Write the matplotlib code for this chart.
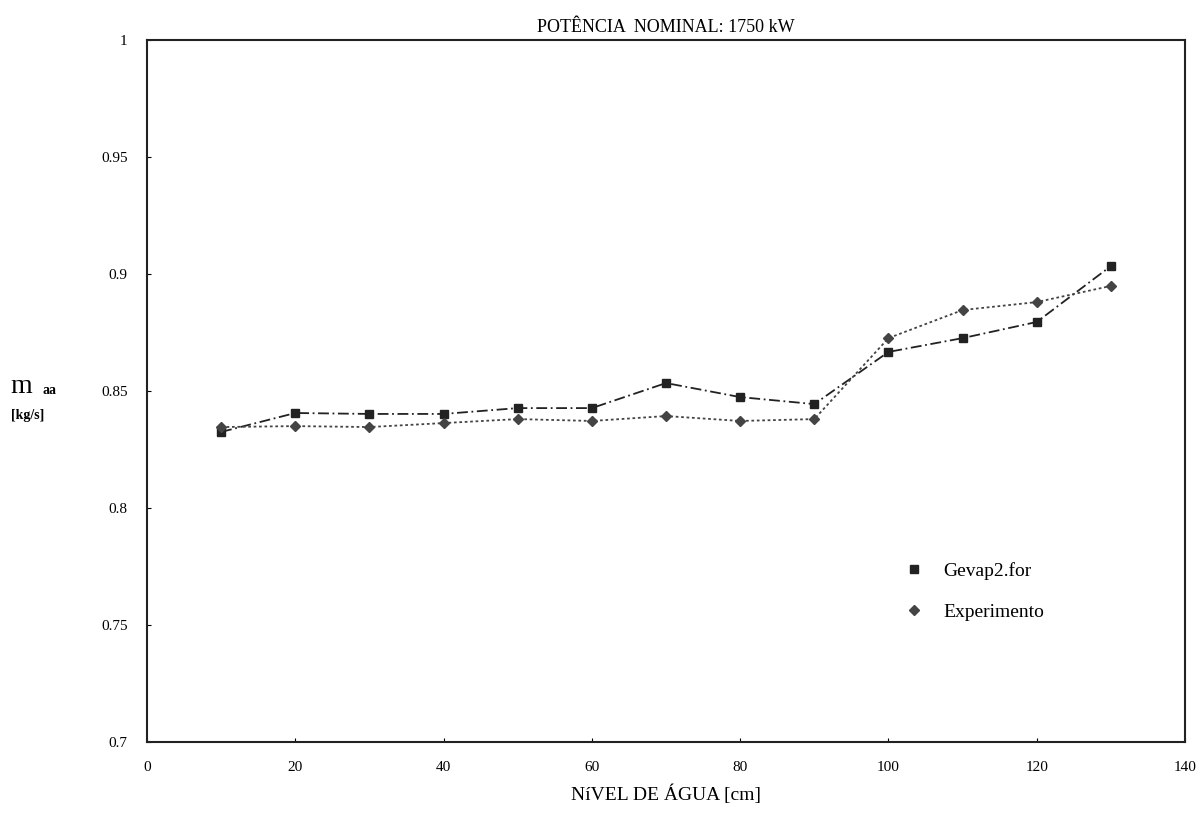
import matplotlib.pyplot as plt
from matplotlib.lines import Line2D
import numpy as np

plt.rcParams['font.family'] = ['Liberation Serif', 'DejaVu Serif']

nivel = [10, 20, 30, 40, 50, 60, 70, 80, 90, 100, 110, 120, 130]
gevap = [0.8325, 0.8406, 0.8402, 0.8402, 0.8427, 0.8427, 0.8534, 0.8474,
         0.8444, 0.8667, 0.8726, 0.8795, 0.9034]
experimento = [0.8346, 0.8350, 0.8346, 0.8363, 0.8380, 0.8372, 0.8393, 0.8372,
               0.8380, 0.8726, 0.8846, 0.8880, 0.8949]

fig = plt.figure(figsize=(12.02, 8.23), dpi=100)
ax = fig.add_axes([0.1223, 0.0984, 0.8636, 0.853])

ax.plot(nivel, gevap, color='#222222', linestyle=(0, (6, 2, 1, 2)), linewidth=1.3,
        marker='s', markersize=6)
ax.plot(nivel, experimento, color='#444444', linestyle=(0, (1.5, 1.5)), linewidth=1.3,
        marker='D', markersize=5)

ax.set_xlim(0, 140)
ax.set_ylim(0.7, 1.0)
ax.set_xticks(np.arange(0, 141, 20))
ax.set_yticks([0.7, 0.75, 0.8, 0.85, 0.9, 0.95, 1.0])
ax.set_yticklabels(["0.7", "0.75", "0.8", "0.85", "0.9", "0.95", "1"])
ax.tick_params(direction='in', length=3, labelsize=11, pad=14)

for s in ax.spines.values():
    s.set_linewidth(1.5)
    s.set_color('#222222')

ax.set_title("POTÊNCIA  NOMINAL: 1750 kW", fontsize=13, pad=6)
ax.set_xlabel("NíVEL DE ÁGUA [cm]", fontsize=14, labelpad=7)

fig.text(0.009, 0.515, "m", fontsize=20, va='bottom')
fig.text(0.035, 0.518, "aa", fontsize=10, va='bottom', fontweight='bold')
fig.text(0.009, 0.487, "[kg/s]", fontsize=10, fontweight='bold', va='bottom')

handles = [Line2D([], [], color='#222222', marker='s', markersize=6, linestyle='none'),
           Line2D([], [], color='#444444', marker='D', markersize=5, linestyle='none')]
ax.legend(handles, ["Gevap2.for", "Experimento"], loc='upper left',
          bbox_to_anchor=(0.713, 0.281), frameon=False, fontsize=14,
          handlelength=1.0, handletextpad=1.0, labelspacing=1.2)

fig.savefig("out.png", dpi=100)
